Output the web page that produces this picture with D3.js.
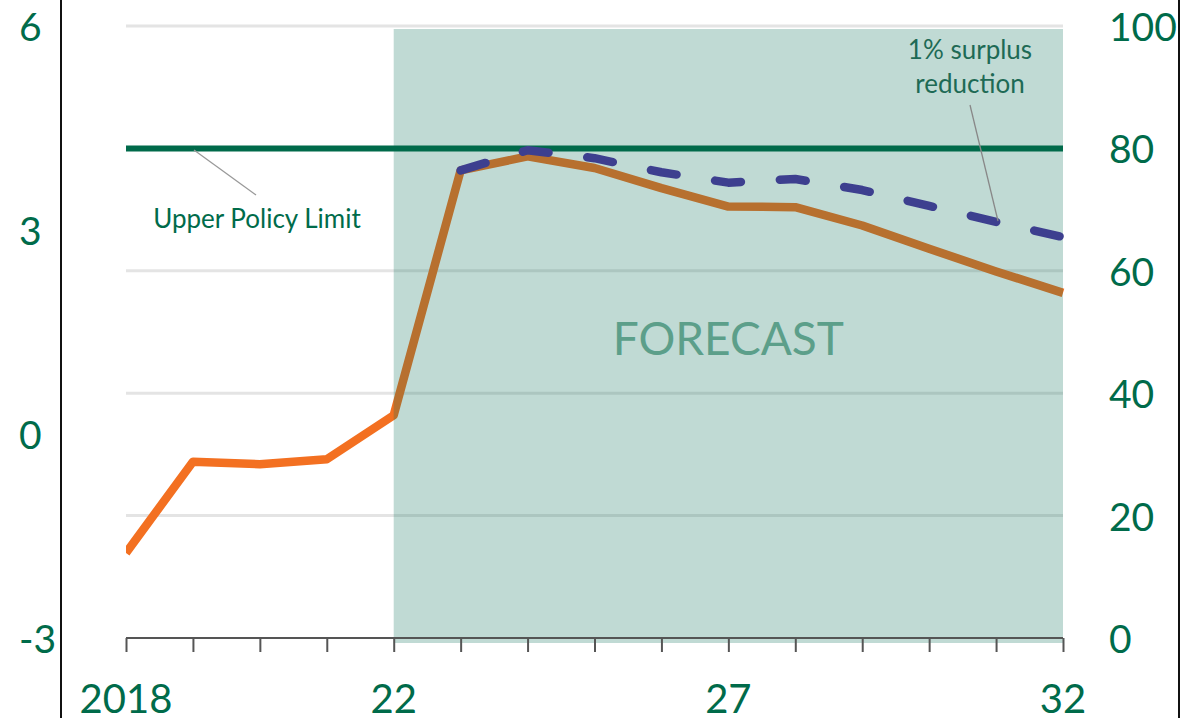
<!DOCTYPE html>
<html>
<head>
<meta charset="utf-8">
<script src="https://cdn.jsdelivr.net/npm/d3@7"></script>
<style>
  html, body { margin: 0; padding: 0; background: #fff; }
  svg { display: block; font-family: Lato, "Open Sans", sans-serif; }
</style>
</head>
<body>
<svg id="chart" width="1183" height="718"></svg>
<script>
// ---- data ----
const years = [2018, 2019, 2020, 2021, 2022, 2023, 2024, 2025, 2026, 2027, 2028, 2029, 2030, 2031, 2032];
const baseline = [13.9, 28.8, 28.4, 29.2, 36.4, 76.4, 78.7, 76.8, 73.5, 70.5, 70.4, 67.4, 63.6, 59.9, 56.4];
const surplusYears = [2023, 2024, 2025, 2026, 2027, 2028, 2029, 2030, 2031, 2032];
const surplusCut = [76.4, 79.7, 78.4, 76.1, 74.4, 75.0, 73.2, 70.6, 68.0, 65.5];
const policyLimit = 80;
const forecastStart = 2022, forecastEnd = 2032;
const leftTicks = [-3, 0, 3, 6];
const rightTicks = [0, 20, 40, 60, 80, 100];
const gridValues = [20, 40, 60, 80, 100];
const xLabelYears = [2018, 2022, 2027, 2032];
const xLabelText = ["2018", "22", "27", "32"];

// ---- layout ----
const svg = d3.select("#chart");
const x = d3.scaleLinear().domain([2018, 2032]).range([126, 1063]);
const yR = d3.scaleLinear().domain([0, 100]).range([638, 26]);
const yL = d3.scaleLinear().domain([-3, 6]).range([638, 26]);
const green = "#006b4a";

// panel borders
svg.append("line").attr("x1", 61).attr("x2", 61).attr("y1", 0).attr("y2", 718)
  .attr("stroke", "#111").attr("stroke-width", 2);
svg.append("line").attr("x1", 1179).attr("x2", 1179).attr("y1", 0).attr("y2", 718)
  .attr("stroke", "#111").attr("stroke-width", 2);

// gridlines
svg.append("g").selectAll("line").data(gridValues).join("line")
  .attr("x1", x(2018)).attr("x2", x(2032))
  .attr("y1", d => yR(d)).attr("y2", d => yR(d))
  .attr("stroke", "#e4e4e4").attr("stroke-width", 3);

// clip for lines
svg.append("defs").append("clipPath").attr("id", "plotclip")
  .append("rect").attr("x", x(2018)).attr("y", 0).attr("width", x(2032) - x(2018) + 6).attr("height", 718);

const line = d3.line().x(d => x(d[0])).y(d => yR(d[1]));

// baseline (orange)
svg.append("path")
  .datum(years.map((y, i) => [y, baseline[i]]))
  .attr("d", line)
  .attr("clip-path", "url(#plotclip)")
  .attr("fill", "none").attr("stroke", "#f37021").attr("stroke-width", 8.5)
  .attr("stroke-linejoin", "round");

// forecast shading
svg.append("rect")
  .attr("x", x(forecastStart)).attr("y", 29)
  .attr("width", x(forecastEnd) - x(forecastStart)).attr("height", 643 - 29)
  .attr("fill", "rgb(10,112,90)").attr("fill-opacity", 0.26);

svg.append("text").attr("x", x(2027)).attr("y", 337)
  .attr("text-anchor", "middle").attr("dominant-baseline", "central")
  .attr("font-size", 46).attr("fill", "#5c9f8a").text("FORECAST");

// x axis
const xAxis = d3.axisBottom(x).tickValues(years).tickSize(14).tickFormat("");
const gx = svg.append("g").attr("transform", "translate(0,638)").call(xAxis);
gx.select(".domain").attr("stroke", "#555").attr("stroke-width", 2).attr("d", `M${x(2018)},0H${x(2032)}`);
gx.selectAll(".tick line").attr("stroke", "#555").attr("stroke-width", 2);

svg.append("g").selectAll("text").data(xLabelYears).join("text")
  .attr("x", d => x(d)).attr("y", 698)
  .attr("text-anchor", "middle").attr("dominant-baseline", "central")
  .attr("font-size", 40).attr("fill", green)
  .text((d, i) => xLabelText[i]);

// policy limit
svg.append("line")
  .attr("x1", x(2018)).attr("x2", x(2032))
  .attr("y1", yR(policyLimit)).attr("y2", yR(policyLimit))
  .attr("stroke", "#006a4a").attr("stroke-width", 6).attr("stroke-linecap", "butt");

// surplus reduction dashed
svg.append("path")
  .datum(surplusYears.map((y, i) => [y, surplusCut[i]]))
  .attr("d", line)
  .attr("fill", "none").attr("stroke", "#3d3f8f").attr("stroke-width", 8.5)
  .attr("stroke-linecap", "round").attr("stroke-linejoin", "round")
  .attr("stroke-dasharray", "26 39");

// annotations
svg.append("line").attr("x1", 194).attr("y1", 150).attr("x2", 256).attr("y2", 195)
  .attr("stroke", "#999").attr("stroke-width", 1.3);
svg.append("text").attr("x", 257).attr("y", 218)
  .attr("text-anchor", "middle").attr("dominant-baseline", "central")
  .attr("font-size", 26).attr("fill", green).text("Upper Policy Limit");

svg.append("line").attr("x1", 970).attr("y1", 105).attr("x2", 998).attr("y2", 221)
  .attr("stroke", "#888").attr("stroke-width", 1.3);
const ann = svg.append("text").attr("text-anchor", "middle")
  .attr("font-size", 26).attr("fill", "#1e6a55");
ann.append("tspan").attr("x", 970).attr("y", 59).text("1% surplus");
ann.append("tspan").attr("x", 970).attr("y", 93).text("reduction");

// left axis labels
svg.append("g").selectAll("text").data(leftTicks).join("text")
  .attr("x", 19).attr("y", d => yL(d))
  .attr("text-anchor", "start").attr("dominant-baseline", "central")
  .attr("font-size", 39).attr("fill", green)
  .text(d => d);

// right axis labels
svg.append("g").selectAll("text").data(rightTicks).join("text")
  .attr("x", 1109).attr("y", d => yR(d))
  .attr("text-anchor", "start").attr("dominant-baseline", "central")
  .attr("font-size", 39).attr("fill", green)
  .text(d => d);
</script>
</body>
</html>
